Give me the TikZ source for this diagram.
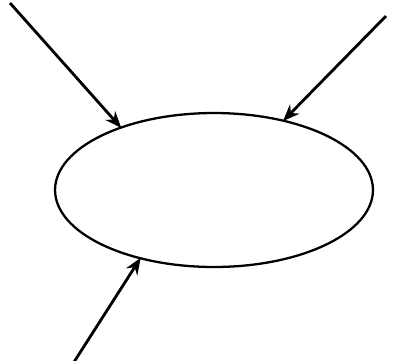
\documentclass[tikz,border=0pt]{standalone}
\usetikzlibrary{arrows.meta,shapes.geometric}

\tikzset{
  blob/.style={draw, ellipse, line width=1.3pt, minimum width=6.36cm, minimum height=3.08cm, inner sep=0pt},
  feed/.style={-{Stealth[length=9.5pt,width=7.5pt]}, line width=1.6pt, shorten >=-1pt}
}

\begin{document}
\begin{tikzpicture}[x=0.02cm, y=-0.02cm]
  \useasboundingbox (0,0) rectangle (396,360);
  \node[blob] (oval) at (214,190) {};
  \coordinate (nw) at (10,3);
  \coordinate (ne) at (386,16);
  \coordinate (sw) at (74,362);
  \draw[feed] (nw) -- (oval.146);
  \draw[feed] (ne) -- (oval.45);
  \draw[feed] (sw) -- (oval.223);
\end{tikzpicture}
\end{document}
